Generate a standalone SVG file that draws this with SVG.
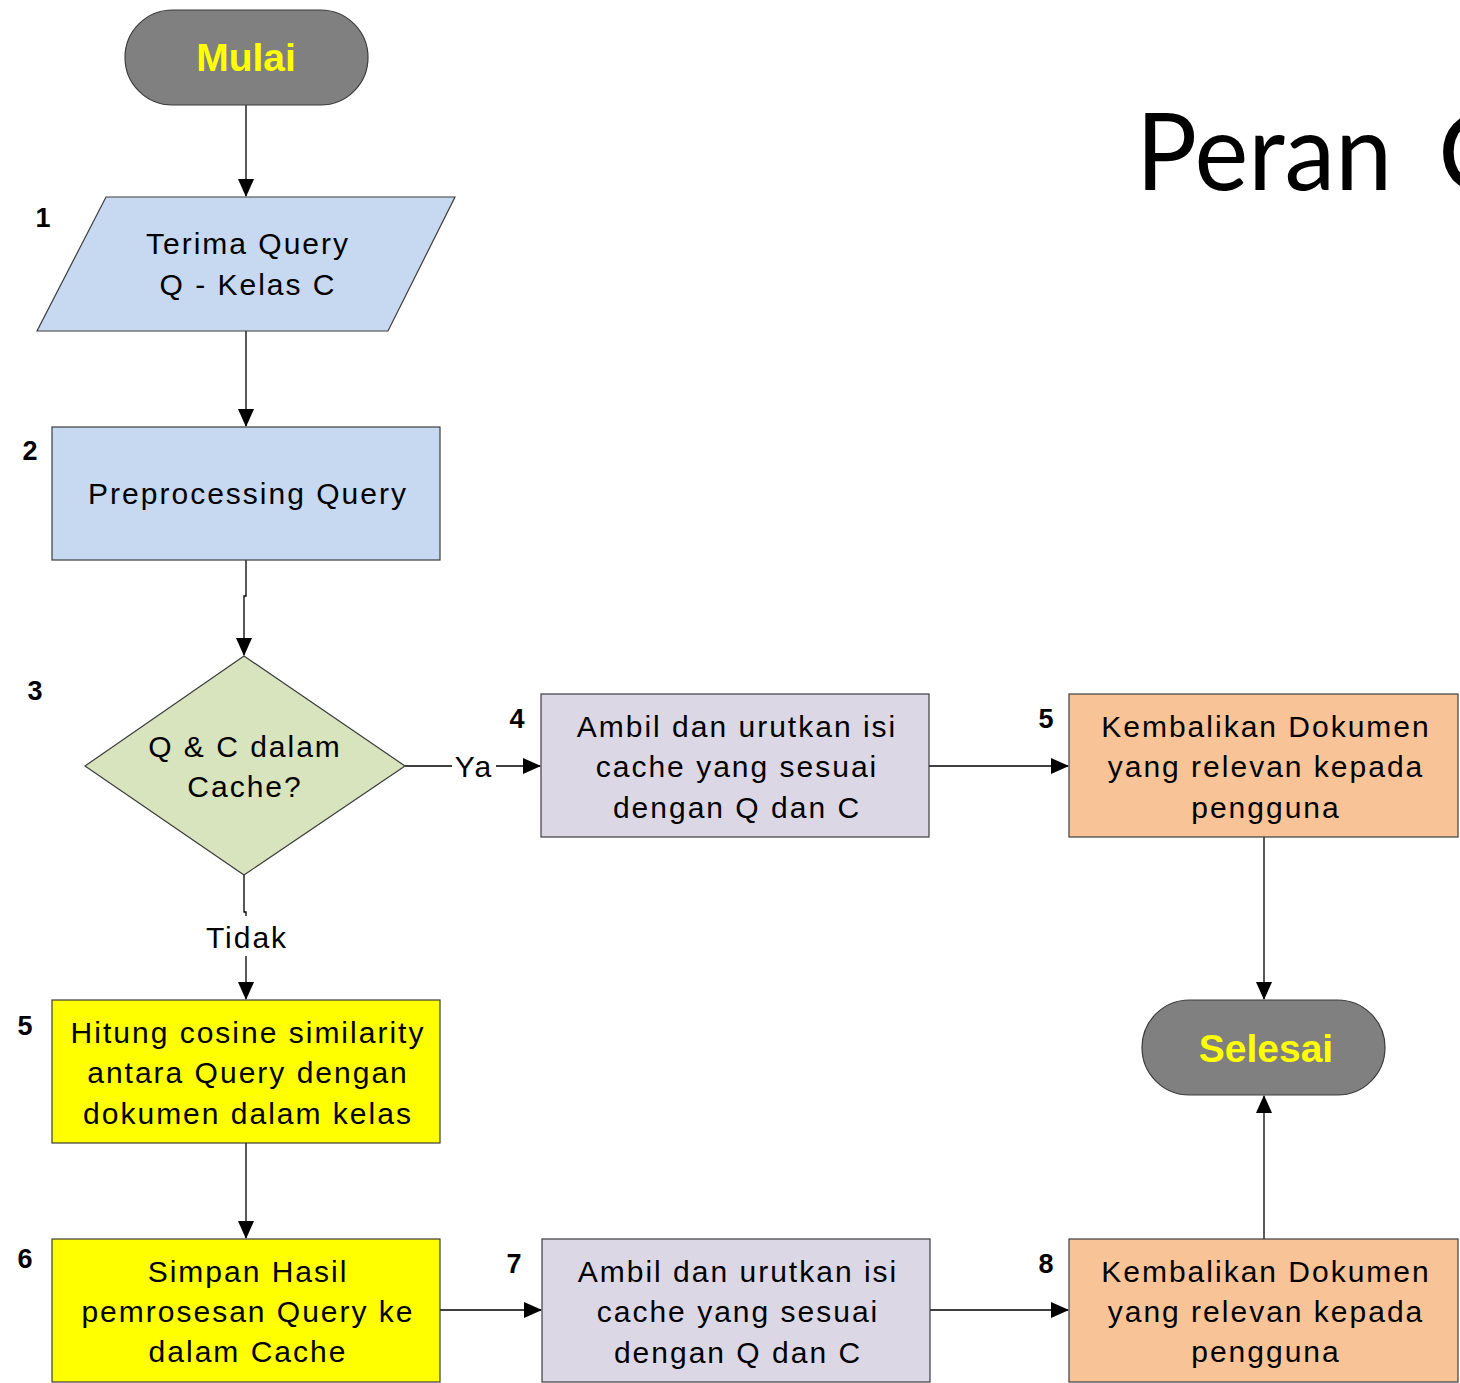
<svg xmlns="http://www.w3.org/2000/svg" width="1460" height="1383" viewBox="0 0 1460 1383">
  <defs>
    <marker id="arrow" markerUnits="userSpaceOnUse" markerWidth="18" markerHeight="16" refX="17" refY="8" orient="auto">
      <path d="M0,0 L18,8 L0,16 Z" fill="#000"/>
    </marker>
    <style>
      .node { stroke: #3c3c3c; stroke-width: 1.2; }
      .term { fill: #808080; }
      .blue { fill: #c6d9f1; }
      .green { fill: #d7e4bd; }
      .lav { fill: #dcd7e5; }
      .peach { fill: #f9c398; }
      .yellow { fill: #ffff00; }
      .t { font-family: "Liberation Sans", Arial, sans-serif; font-size: 30px; letter-spacing: 2px; fill: #000; text-anchor: middle; }
      .tt { font-family: "Liberation Sans", Arial, sans-serif; font-size: 39px; font-weight: bold; fill: #ffff00; text-anchor: middle; }
      .num { font-family: "Liberation Sans", Arial, sans-serif; font-size: 27px; font-weight: bold; fill: #000; text-anchor: middle; }
      .title { font-family: Lato, "Open Sans", sans-serif; font-size: 107px; fill: #000; }
      .conn { fill: none; stroke: #000; stroke-width: 1.3; }
    </style>
  </defs>

  <rect width="1460" height="1383" fill="#fff"/>

  <text class="title" x="1136" y="190"><tspan textLength="256" lengthAdjust="spacingAndGlyphs">Peran</tspan><tspan x="1438">C</tspan></text>

  <!-- connectors -->
  <g id="connectors">
    <path class="conn" d="M246,105 L246,196" marker-end="url(#arrow)"/>
    <path class="conn" d="M246,331 L246,426" marker-end="url(#arrow)"/>
    <path class="conn" d="M246,560 L246,596 L244,596 L244,655" marker-end="url(#arrow)"/>
    <path class="conn" d="M405,766 L540,766" marker-end="url(#arrow)"/>
    <rect x="452" y="748" width="44" height="36" fill="#fff"/>
    <text class="t" x="474" y="777" letter-spacing="0">Ya</text>
    <path class="conn" d="M929,766 L1068,766" marker-end="url(#arrow)"/>
    <path class="conn" d="M1264,837 L1264,999" marker-end="url(#arrow)"/>
    <path class="conn" d="M244,875 L244,912 L246,912 L246,999" marker-end="url(#arrow)"/>
    <rect x="200" y="916" width="92" height="40" fill="#fff"/>
    <text class="t" x="247" y="948" letter-spacing="0">Tidak</text>
    <path class="conn" d="M246,1143 L246,1238" marker-end="url(#arrow)"/>
    <path class="conn" d="M440,1310 L541,1310" marker-end="url(#arrow)"/>
    <path class="conn" d="M930,1310 L1068,1310" marker-end="url(#arrow)"/>
    <path class="conn" d="M1264,1239 L1264,1096" marker-end="url(#arrow)"/>
  </g>

  <g id="start">
    <rect class="node term" x="125" y="10" width="243" height="95" rx="47.5"/>
    <text class="tt" x="246" y="71">Mulai</text>
  </g>

  <g id="n1">
    <polygon class="node blue" points="106,197 455,197 388,331 37,331"/>
    <text class="num" x="43" y="227">1</text>
    <text class="t" x="248" y="254">Terima Query</text>
    <text class="t" x="248" y="295">Q - Kelas C</text>
  </g>

  <g id="n2">
    <rect class="node blue" x="52" y="427" width="388" height="133"/>
    <text class="num" x="30" y="460">2</text>
    <text class="t" x="248" y="504">Preprocessing Query</text>
  </g>

  <g id="n3">
    <polygon class="node green" points="244,656 405,766 244,875 85,766"/>
    <text class="num" x="35" y="700">3</text>
    <text class="t" x="245" y="757">Q &amp; C dalam</text>
    <text class="t" x="245" y="797">Cache?</text>
  </g>

  <g id="n4">
    <rect class="node lav" x="541" y="694" width="388" height="143"/>
    <text class="num" x="517" y="728">4</text>
    <text class="t" x="737" y="737">Ambil dan urutkan isi</text>
    <text class="t" x="737" y="777">cache yang sesuai</text>
    <text class="t" x="737" y="818">dengan Q dan C</text>
  </g>

  <g id="n5a">
    <rect class="node peach" x="1069" y="694" width="389" height="143"/>
    <text class="num" x="1046" y="728">5</text>
    <text class="t" x="1266" y="737">Kembalikan Dokumen</text>
    <text class="t" x="1266" y="777">yang relevan kepada</text>
    <text class="t" x="1266" y="818">pengguna</text>
  </g>

  <g id="end">
    <rect class="node term" x="1142" y="1000" width="243" height="95" rx="47.5"/>
    <text class="tt" x="1266" y="1062">Selesai</text>
  </g>

  <g id="n5b">
    <rect class="node yellow" x="52" y="1000" width="388" height="143"/>
    <text class="num" x="25" y="1035">5</text>
    <text class="t" x="248" y="1043">Hitung cosine similarity</text>
    <text class="t" x="248" y="1083">antara Query dengan</text>
    <text class="t" x="248" y="1124">dokumen dalam kelas</text>
  </g>

  <g id="n6">
    <rect class="node yellow" x="52" y="1239" width="388" height="143"/>
    <text class="num" x="25" y="1268">6</text>
    <text class="t" x="248" y="1282">Simpan Hasil</text>
    <text class="t" x="248" y="1322">pemrosesan Query ke</text>
    <text class="t" x="248" y="1362">dalam Cache</text>
  </g>

  <g id="n7">
    <rect class="node lav" x="542" y="1239" width="388" height="143"/>
    <text class="num" x="514" y="1273">7</text>
    <text class="t" x="738" y="1282">Ambil dan urutkan isi</text>
    <text class="t" x="738" y="1322">cache yang sesuai</text>
    <text class="t" x="738" y="1363">dengan Q dan C</text>
  </g>

  <g id="n8">
    <rect class="node peach" x="1069" y="1239" width="389" height="143"/>
    <text class="num" x="1046" y="1273">8</text>
    <text class="t" x="1266" y="1282">Kembalikan Dokumen</text>
    <text class="t" x="1266" y="1322">yang relevan kepada</text>
    <text class="t" x="1266" y="1362">pengguna</text>
  </g>
</svg>
